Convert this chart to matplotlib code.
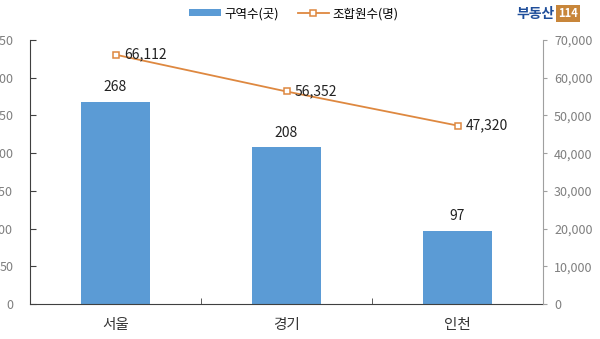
import numpy as np
import matplotlib.pyplot as plt

plt.rcParams['font.family'] = ['Noto Sans CJK KR', 'DejaVu Sans']

# 데이터
regions = ["서울", "경기", "인천"]
zones = [268, 208, 97]
members = [66112, 56352, 47320]

bar_color = "#5B9BD5"
line_color = "#DE8840"
tick_gray = "#7F7F7F"

fig = plt.figure(figsize=(6, 3.39), dpi=100)
ax = fig.add_axes([0.05, 0.103, 0.855, 0.779])
ax2 = ax.twinx()

x = np.arange(len(regions))
ax.bar(x, zones, width=0.4, color=bar_color, label="구역수(곳)", zorder=2)
for xi, v in zip(x, zones):
    ax.text(xi, v + 10, f"{v}", ha="center", va="bottom", fontsize=10, color="#222222")

ax2.plot(x, members, color=line_color, linewidth=1.3, marker="s", markersize=4.5,
         markerfacecolor="white", markeredgecolor=line_color, markeredgewidth=1.1,
         label="조합원수(명)", zorder=3)
for xi, v in zip(x, members):
    ax2.text(xi + 0.05, v, f"{v:,}", ha="left", va="center", fontsize=10, color="#222222")

ax.set_xlim(-0.5, 2.5)
ax.set_ylim(0, 350)
ax.set_yticks(np.arange(0, 351, 50))
ax2.set_ylim(0, 70000)
ax2.set_yticks(np.arange(0, 70001, 10000))
ax2.yaxis.set_major_formatter(plt.FuncFormatter(lambda v, p: f"{int(v):,}"))

ax.set_xticks(x)
ax.set_xticklabels(regions, fontsize=10.5, color="#333333")
ax.set_xticks([0.5, 1.5], minor=True)
ax.tick_params(axis="x", which="major", length=0, pad=10)
ax.tick_params(axis="x", which="minor", direction="in", length=4, color="#404040")
ax.tick_params(axis="y", direction="in", length=4, pad=12, labelsize=9,
               labelcolor=tick_gray, color="#404040")
ax2.tick_params(axis="y", direction="out", length=3, pad=5, labelsize=9,
                labelcolor=tick_gray, color="#A0A0A0")

for s in ["top", "right"]:
    ax.spines[s].set_visible(False)
ax2.spines["top"].set_visible(False)
ax2.spines["left"].set_visible(False)
ax2.spines["bottom"].set_visible(False)
ax.spines["left"].set_color("#404040")
ax.spines["bottom"].set_color("#404040")
ax2.spines["right"].set_color("#A0A0A0")

# 범례
h1, l1 = ax.get_legend_handles_labels()
h2, l2 = ax2.get_legend_handles_labels()
fig.legend(h1 + h2, l1 + l2, loc="center", bbox_to_anchor=(0.49, 0.96), ncol=2,
           frameon=False, fontsize=9, handlelength=2.5, handleheight=0.5,
           columnspacing=1.5, handletextpad=0.3)

# 로고
fig.text(0.925, 0.96, "부동산", ha="right", va="center", fontsize=10,
         fontweight="bold", color="#1F4E9A")
fig.text(0.93, 0.96, "114", ha="left", va="center", fontsize=8, fontweight="bold",
         color="white", bbox=dict(facecolor="#C8863A", edgecolor="none", pad=1.5))

fig.savefig("out.png", dpi=100)
